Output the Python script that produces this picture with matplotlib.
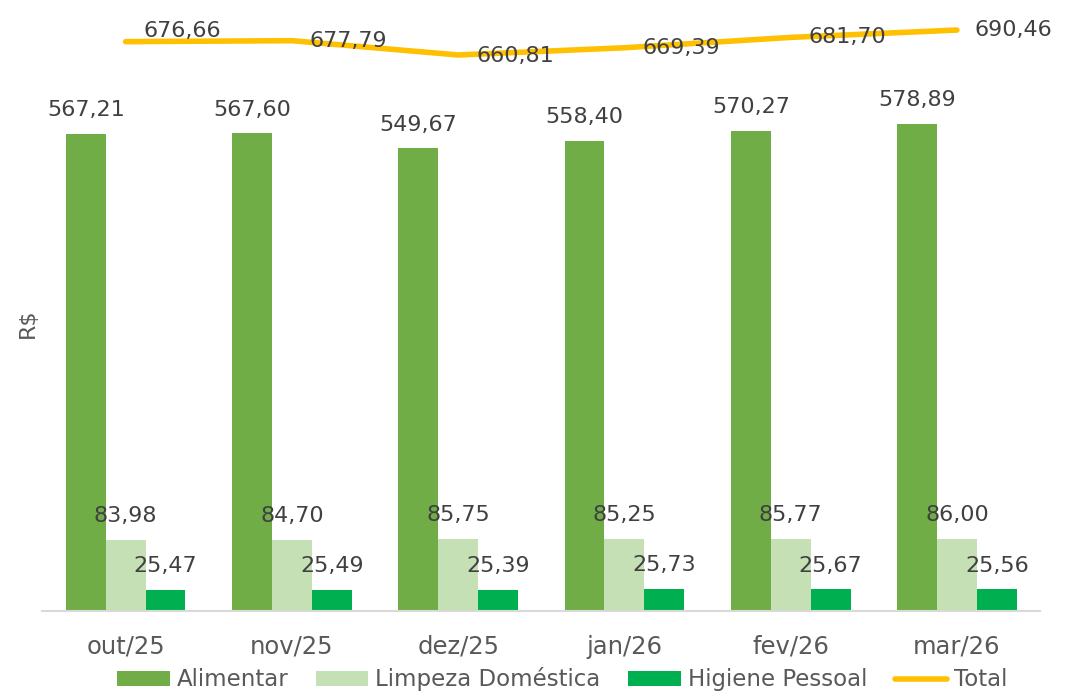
import numpy as np
import matplotlib
matplotlib.use("Agg")
import matplotlib.pyplot as plt

# dados (R$)
meses = ["out/25", "nov/25", "dez/25", "jan/26", "fev/26", "mar/26"]
alimentar = [567.21, 567.60, 549.67, 558.40, 570.27, 578.89]
limpeza = [83.98, 84.70, 85.75, 85.25, 85.77, 86.00]
higiene = [25.47, 25.49, 25.39, 25.73, 25.67, 25.56]
total = [676.66, 677.79, 660.81, 669.39, 681.70, 690.46]

plt.rcParams['font.family'] = ['DejaVu Sans']
txt_cor = "#404040"
fs = 16

def br(v):
	return ("%.2f" % v).replace(".", ",")

fig = plt.figure(figsize=(10.75, 6.94), dpi=100)
ax = fig.add_axes([0.0395, 0.1196, 0.928, 0.8487])

x = np.arange(len(meses))
w = 0.24

b1 = ax.bar(x - w, alimentar, w, color="#70AD47", label="Alimentar")
b2 = ax.bar(x, limpeza, w, color="#C5E0B4", label="Limpeza Doméstica")
b3 = ax.bar(x + w, higiene, w, color="#00B050", label="Higiene Pessoal")
ln, = ax.plot(x, total, color="#FFC000", lw=4, solid_capstyle="round", label="Total")

# rotulos das barras
for bars, vals in ((b1, alimentar), (b2, limpeza), (b3, higiene)):
	for r, v in zip(bars, vals):
		ax.annotate(br(v), (r.get_x() + r.get_width() / 2, v), xytext=(0, 10),
			textcoords="offset points", ha="center", va="bottom",
			fontsize=fs, color=txt_cor, annotation_clip=False)

# rotulos do total (a direita)
dy = [8, 0, -1, 0, 0, 0]
for xi, v, d in zip(x, total, dy):
	ax.annotate(br(v), (xi, v), xytext=(13, d), textcoords="offset points",
		ha="left", va="center", fontsize=fs, color=txt_cor, annotation_clip=False)

ax.set_xlim(-0.5, 5.5)
ax.set_ylim(0, 700)
ax.set_xticks(x)
ax.set_xticklabels(meses, fontsize=17.5, color="#595959")
ax.tick_params(axis="x", length=0, pad=17)
ax.set_yticks([])
for s in ("top", "right", "left"):
	ax.spines[s].set_visible(False)
ax.spines["bottom"].set_color("#D9D9D9")
ax.spines["bottom"].set_linewidth(1.5)

fig.text(0.026, 0.535, "R$", rotation=90, fontsize=fs, color="#595959",
	ha="center", va="center")

fig.legend(handles=[b1, b2, b3, ln], loc="center", bbox_to_anchor=(0.523, 0.021),
	ncol=4, frameon=False, fontsize=16.5, handlelength=2.3, handleheight=0.6,
	columnspacing=1.2, handletextpad=0.3, labelcolor="#595959")

fig.savefig("out.png", dpi=100)
